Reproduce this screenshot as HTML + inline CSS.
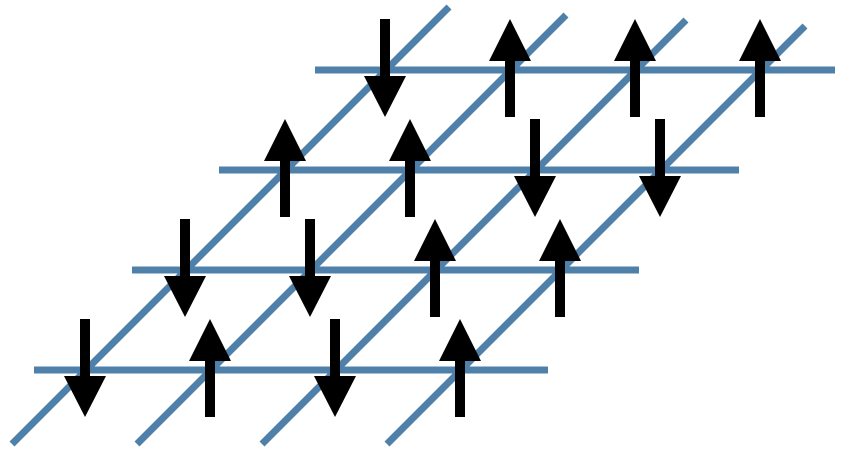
<!DOCTYPE html>
<html><head><style>html,body{margin:0;padding:0;background:#fff;}svg{display:block}</style></head>
<body>
<svg width="850" height="456" viewBox="0 0 850 456" xmlns="http://www.w3.org/2000/svg">
<g stroke="#4f80a9" stroke-width="7" fill="none">
<line x1="315" y1="70" x2="835" y2="70"/>
<line x1="219" y1="170" x2="739" y2="170"/>
<line x1="132" y1="270" x2="639" y2="270"/>
<line x1="34" y1="370" x2="548" y2="370"/>
<line x1="12" y1="444" x2="449" y2="7"/>
<line x1="137" y1="444" x2="566" y2="15"/>
<line x1="262" y1="444" x2="686" y2="20"/>
<line x1="387" y1="444" x2="805" y2="26"/>
</g>
<defs>
<g id="up"><rect x="-5" y="42" width="10" height="56" fill="#000"/><polygon points="0,0 21,42 -21,42" fill="#000"/></g>
<g id="dn"><rect x="-5" y="0" width="10" height="57" fill="#000"/><polygon points="0,98 21,57 -21,57" fill="#000"/></g>
</defs>
<use href="#dn" x="385" y="19"/><use href="#up" x="510" y="19"/><use href="#up" x="635" y="19"/><use href="#up" x="760" y="19"/>
<use href="#up" x="285" y="119"/><use href="#up" x="410" y="119"/><use href="#dn" x="535" y="119"/><use href="#dn" x="660" y="119"/>
<use href="#dn" x="185" y="219"/><use href="#dn" x="310" y="219"/><use href="#up" x="435" y="219"/><use href="#up" x="560" y="219"/>
<use href="#dn" x="85" y="319"/><use href="#up" x="210" y="319"/><use href="#dn" x="335" y="319"/><use href="#up" x="460" y="319"/>
</svg>
</body></html>
